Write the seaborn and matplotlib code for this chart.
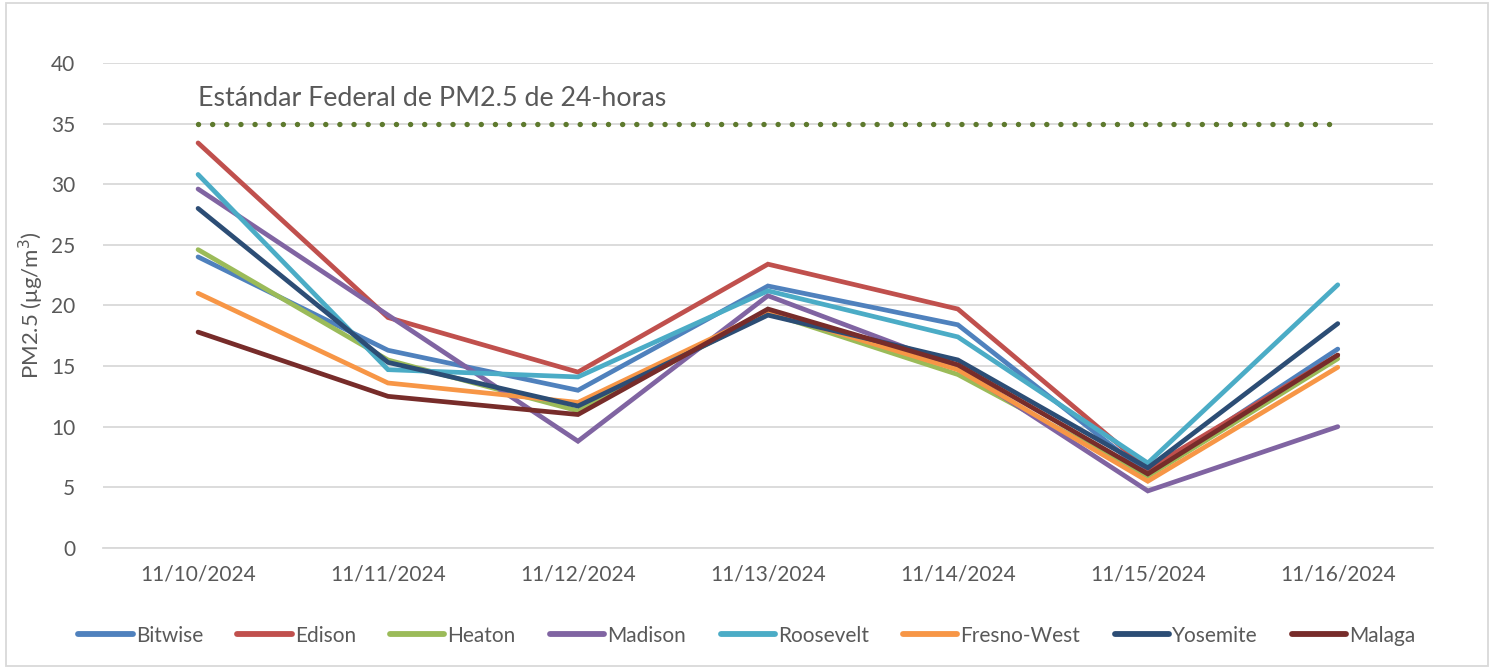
import pandas as pd
import matplotlib
matplotlib.use("Agg")
import matplotlib.pyplot as plt
import seaborn as sns
from matplotlib.patches import Rectangle

# datos
fechas = ['11/10/2024', '11/11/2024', '11/12/2024', '11/13/2024',
          '11/14/2024', '11/15/2024', '11/16/2024']
bitwise = [24.0, 16.3, 13.0, 21.6, 18.4, 6.1, 16.4]
edison = [33.4, 19.0, 14.5, 23.4, 19.7, 6.5, 15.9]
heaton = [24.6, 15.5, 11.3, 19.4, 14.3, 5.9, 15.6]
madison = [29.6, 19.2, 8.8, 20.8, 14.9, 4.7, 10.0]
roosevelt = [30.8, 14.7, 14.1, 21.2, 17.4, 7.0, 21.7]
fresno_west = [21.0, 13.6, 12.0, 19.5, 14.7, 5.5, 14.9]
yosemite = [28.0, 15.3, 11.7, 19.2, 15.5, 6.6, 18.5]
malaga = [17.8, 12.5, 11.0, 19.7, 15.1, 6.1, 15.9]
estandar = 35

sitios = ['Bitwise', 'Edison', 'Heaton', 'Madison', 'Roosevelt',
          'Fresno-West', 'Yosemite', 'Malaga']
colores = ['#4F81BD', '#C0504D', '#9BBB59', '#8064A2', '#4BACC6',
           '#F79646', '#2C4D75', '#772C2A']
series = [bitwise, edison, heaton, madison, roosevelt, fresno_west, yosemite, malaga]

rows = []
for s, vals in zip(sitios, series):
    for i, (f, v) in enumerate(zip(fechas, vals)):
        rows.append({'pos': i, 'fecha': f, 'sitio': s, 'pm25': v})
df = pd.DataFrame(rows)

sns.set_theme(style="white")
plt.rcParams['font.family'] = ['Lato', 'DejaVu Sans']

fig = plt.figure(figsize=(14.94, 6.69), dpi=100)
ax = fig.add_axes([0.069, 0.181, 0.890, 0.725])

sns.lineplot(data=df, x='pos', y='pm25', hue='sitio', hue_order=sitios,
             palette=colores, linewidth=3.4, ax=ax, legend=True)
for ln in ax.get_lines():
    ln.set_solid_capstyle('round')
    ln.set_solid_joinstyle('miter')

# linea del estandar federal
ax.plot(range(len(fechas)), [estandar] * len(fechas), color='#5E7A2E',
        linestyle=(0, (0.01, 2.6)), linewidth=3.9, dash_capstyle='round')
ax.text(0, 37.1, 'Estándar Federal de PM2.5 de 24-horas', fontsize=19.3,
        color='#595959', ha='left', va='center')

ax.set_xlim(-0.5, len(fechas) - 0.5)
ax.set_ylim(0, 40)
ax.set_yticks(range(0, 41, 5))
ax.set_xticks(range(len(fechas)))
ax.set_xticklabels(fechas)
ax.set_xticks([i - 0.5 for i in range(len(fechas) + 1)], minor=True)
ax.tick_params(axis='x', which='major', length=0, pad=12, labelsize=15, labelcolor='#595959')
ax.tick_params(axis='x', which='minor', length=6, color='#D9D9D9', width=1.2, direction='out')
ax.tick_params(axis='y', length=0, pad=20, labelsize=15, labelcolor='#595959')
ax.grid(axis='y', color='#D9D9D9', linewidth=1.3)
ax.set_axisbelow(True)
for side in ['left', 'right', 'top']:
    ax.spines[side].set_visible(False)
ax.spines['bottom'].set_color('#D9D9D9')
ax.spines['bottom'].set_linewidth(1.3)
ax.set_xlabel('')
ax.set_ylabel('PM2.5 (μg/m$^3$)', fontsize=16, color='#595959', labelpad=4)

handles, labels = ax.get_legend_handles_labels()
ax.get_legend().remove()
leg = fig.legend(handles[:len(sitios)], labels[:len(sitios)], loc='center',
                 bbox_to_anchor=(0.5, 0.05), ncol=8, frameon=False,
                 fontsize=15, handlelength=2.6, handletextpad=0.15,
                 columnspacing=1.65)
for t in leg.get_texts():
    t.set_color('#595959')
for h in leg.get_lines():
    h.set_linewidth(4.2)

fig.patches.append(Rectangle((0.004, 0.004), 0.992, 0.992, transform=fig.transFigure,
                             fill=False, edgecolor='#D9D9D9', linewidth=1.3))

plt.savefig('out.png', dpi=100)
